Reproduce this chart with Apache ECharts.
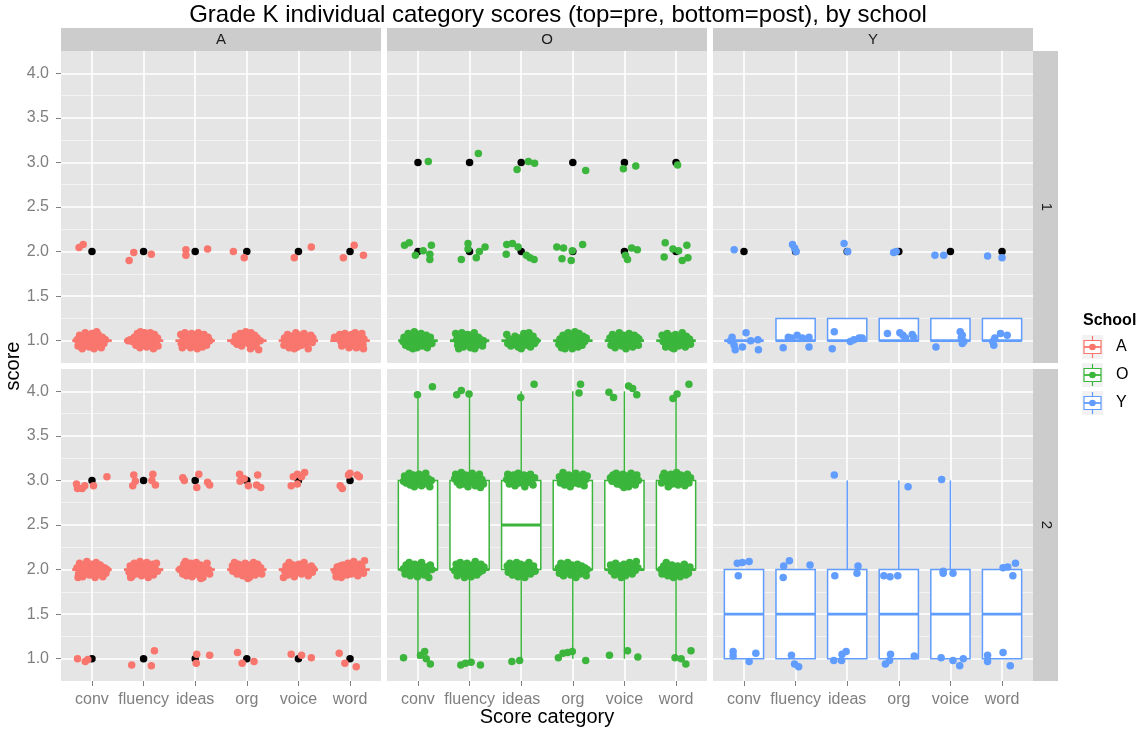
<!DOCTYPE html>
<html>
<head>
<meta charset="utf-8">
<script src="https://cdn.jsdelivr.net/npm/echarts@6/dist/echarts.min.js"></script>
<style>
  html, body { margin: 0; padding: 0; background: #ffffff; }
  #chart { width: 1141px; height: 733px; }
</style>
</head>
<body>
<div id="chart"></div>
<script>
// ---- categories, facets, ticks ----
const categories = ['conv', 'fluency', 'ideas', 'org', 'voice', 'word'];
const schools = ['A', 'O', 'Y'];
const times = ['1', '2'];
const schoolColors = ['#F8766D', '#3BB53C', '#619CFF'];
const xTicks = [1, 2, 3, 4, 5, 6];
const yMajorTicks = [1, 1.5, 2, 2.5, 3, 3.5, 4];
const yMinorTicks = [1.25, 1.75, 2.25, 2.75, 3.25, 3.75];

// ---- boxplot statistics per category: [lower whisker, Q1, median, Q3, upper whisker] ----
const boxA1 = [[1,1,1,1,1],[1,1,1,1,1],[1,1,1,1,1],[1,1,1,1,1],[1,1,1,1,1],[1,1,1,1,1]];
const boxO1 = [[1,1,1,1,1],[1,1,1,1,1],[1,1,1,1,1],[1,1,1,1,1],[1,1,1,1,1],[1,1,1,1,1]];
const boxY1 = [[1,1,1,1,1],[1,1,1,1.25,1.25],[1,1,1,1.25,1.25],[1,1,1,1.25,1.25],[1,1,1,1.25,1.25],[1,1,1,1.25,1.25]];
const boxA2 = [[2,2,2,2,2],[2,2,2,2,2],[2,2,2,2,2],[2,2,2,2,2],[2,2,2,2,2],[2,2,2,2,2]];
const boxO2 = [[1,2,2,3,4],[1,2,2,3,4],[1,2,2.5,3,4],[1,2,2,3,4],[1,2,2,3,4],[1,2,2,3,4]];
const boxY2 = [[1,1,1.5,2,2],[1,1,1.5,2,2],[1,1,1.5,2,3],[1,1,1.5,2,3],[1,1,1.5,2,3],[1,1,1.5,2,2]];

// ---- boxplot outliers per category ----
const outA1 = [[2],[2],[2],[2],[2],[2]];
const outO1 = [[2,3],[2,3],[2,3],[2,3],[2,3],[2,3]];
const outY1 = [[2],[2],[2],[2],[2],[2]];
const outA2 = [[1,3],[1,3],[1,3],[1,3],[1,3],[1,3]];
const outO2 = [[],[],[],[],[],[]];
const outY2 = [[],[],[],[],[],[]];

// ---- jittered individual scores per category: [horizontal jitter, jittered score] ----
const ptsA1 = [
  [[-.25,2.045],[-.17,2.08],
   [-.29,1.01],[-.27,.94],[-.24,1.06],[-.21,.98],[-.19,.91],[-.16,1.03],[-.13,1.09],[-.11,.96],[-.08,1.0],[-.05,.93],[-.03,1.05],[0,1.08],[.02,.97],[.04,.91],[.07,1.02],[.1,.95],[.12,1.07],[.15,.99],[.18,.92],[.2,1.04],[.23,.97],[.26,1.01],[-.14,.94],[.09,1.1]],
  [[-.28,1.9],[-.19,1.99],[.15,1.97],
   [-.3,1.0],[-.26,1.01],[-.22,.99],[-.18,1.04],[-.15,.95],[-.12,1.08],[-.1,1.0],[-.07,.92],[-.04,1.05],[-.01,.97],[.02,1.09],[.04,1.02],[.06,.93],[.09,.99],[.11,1.06],[.14,.95],[.16,1.01],[.19,.91],[.21,1.07],[.24,.98],[.27,1.03],[.28,.94],[-.06,1.1],[.13,1.09]],
  [[-.18,2.02],[-.18,1.96],[.24,2.03],
   [-.28,1.07],[-.27,.97],[-.25,.92],[-.23,1.02],[-.2,1.09],[-.17,.95],[-.15,1.04],[-.12,.99],[-.09,.92],[-.07,1.08],[-.04,1.01],[-.01,.95],[.01,1.05],[.04,.91],[.06,1.09],[.09,.98],[.11,1.03],[.14,.93],[.17,1.07],[.19,1.0],[.22,.95],[.25,1.04],[.28,1.0],[.03,.99]],
  [[-.26,2.0],[-.05,1.93],
   [-.25,.99],[-.22,1.05],[-.19,.96],[-.16,1.01],[-.13,1.08],[-.1,.94],[-.08,1.03],[-.05,.99],[-.02,1.1],[0,1.05],[.03,.97],[.05,1.02],[.08,1.09],[.1,.93],[.13,1.0],[.15,1.06],[.18,.96],[.2,1.03],[.23,.9],[.26,1.0],[-.18,1.02],[.07,.91]],
  [[-.08,1.93],[.25,2.05],
   [-.28,.95],[-.27,1.03],[-.24,.99],[-.21,1.07],[-.18,.92],[-.16,1.0],[-.13,1.05],[-.1,.96],[-.07,1.02],[-.05,1.09],[-.02,.93],[.01,1.0],[.03,1.06],[.06,.95],[.09,1.01],[.11,1.08],[.14,.97],[.16,1.04],[.19,.91],[.21,1.0],[.24,1.06],[.27,.98],[.28,1.03],[-.08,.91]],
  [[-.13,1.93],[.08,2.07],[.26,1.96],
   [-.3,1.04],[-.26,1.03],[-.2,1.07],[-.18,.99],[-.16,.94],[-.13,1.02],[-.1,1.08],[-.08,.96],[-.05,1.05],[-.02,.92],[0,1.0],[.03,1.07],[.05,.95],[.08,1.03],[.1,1.09],[.13,.98],[.15,.93],[.18,1.05],[.2,1.0],[.23,1.08],[.25,.96],[.27,1.02],[.26,.91],[.12,.92]]
];
const ptsO1 = [
  [[.2,3.01],[-.26,2.07],[-.17,2.1],[-.05,1.96],[.1,2.01],[.26,2.07],[.23,1.97],[.23,1.91],
   [-.29,.99],[-.27,1.04],[-.24,.95],[-.22,1.02],[-.19,1.08],[-.17,.93],[-.14,1.0],[-.12,1.06],[-.09,.97],[-.07,1.1],[-.04,1.01],[-.02,.92],[.01,1.05],[.03,.98],[.06,1.08],[.08,.94],[.11,1.02],[.13,.97],[.16,1.06],[.18,.92],[.21,1.0],[.24,1.04],[.27,.97],[-.1,.91]],
  [[.17,3.1],[-.16,1.91],[-.03,2.09],[-.03,2.03],[.13,1.93],[.19,2.0],[.3,2.05],
   [-.27,1.08],[-.25,1.01],[-.23,.95],[-.2,1.05],[-.17,.99],[-.15,1.09],[-.12,.93],[-.09,1.03],[-.07,.97],[-.04,1.07],[-.01,1.0],[.02,.92],[.04,1.06],[.07,.98],[.09,1.09],[.12,1.02],[.14,.95],[.17,1.04],[.19,.97],[.22,1.01],[.25,.94],[.27,1.0],[-.21,.91],[.1,.91]],
  [[-.08,2.92],[.14,3.01],[.26,2.99],[-.28,2.08],[-.29,1.97],[-.17,2.09],[-.06,2.05],[.1,1.96],[.17,1.93],[.25,1.91],
   [-.28,1.07],[-.26,.97],[-.23,1.02],[-.2,.94],[-.17,1.0],[-.14,.96],[-.12,1.05],[-.09,.99],[-.06,.93],[-.04,1.03],[-.01,.97],[.02,1.01],[.05,1.08],[.07,.95],[.1,1.03],[.12,.99],[.15,1.09],[.18,.93],[.2,1.0],[.23,1.05],[.26,.97],[.29,1.0],[0,.91]],
  [[.25,2.91],[-.31,2.05],[-.18,2.04],[-.21,1.92],[-.03,1.9],[-.01,2.01],[.19,2.08],
   [-.27,.96],[-.25,1.02],[-.22,.92],[-.19,1.06],[-.17,.99],[-.14,.94],[-.11,1.03],[-.09,1.09],[-.06,.97],[-.03,1.01],[-.01,.91],[.02,1.06],[.05,.98],[.07,1.03],[.1,.93],[.12,1.08],[.15,1.0],[.18,.95],[.2,1.05],[.23,.99],[.26,1.03],[.04,1.1],[-.15,.91]],
  [[-.02,2.93],[.22,2.96],[.02,1.96],[.06,1.91],[.14,2.04],[.25,2.02],
   [-.28,1.03],[-.26,.95],[-.23,1.07],[-.21,.99],[-.18,.92],[-.15,1.04],[-.13,.97],[-.1,1.09],[-.07,1.01],[-.05,.94],[-.02,1.06],[.01,.98],[.03,.91],[.06,1.03],[.09,1.08],[.11,.96],[.14,1.01],[.16,.93],[.19,1.06],[.22,.99],[.24,1.04],[.27,.95],[.28,1.02]],
  [[.03,2.97],[-.21,2.1],[-.23,1.94],[-.06,2.03],[.05,2.01],[.21,2.07],[.23,1.93],[.12,1.9],
   [-.27,1.06],[-.25,.99],[-.22,1.03],[-.2,.93],[-.17,1.08],[-.14,1.0],[-.12,.95],[-.09,1.05],[-.06,.98],[-.04,.91],[-.01,1.07],[.02,1.01],[.05,.94],[.07,1.04],[.1,.97],[.12,1.09],[.15,1.0],[.18,.93],[.2,1.05],[.23,.98],[.26,1.02],[.28,.96],[-.08,.92]]
];
const ptsY1 = [
  [[-.19,2.02],[-.23,1.04],[.04,1.09],[-.19,.95],[-.17,.9],[-.03,.93],[.13,1.0],[.27,1.01],[.28,.9],[-.26,1.0]],
  [[-.06,2.08],[-.02,2.04],[.01,2.0],[-.24,.92],[-.14,1.04],[.03,1.06],[-.08,1.03],[.26,1.04],[.26,.93],[.13,1.03]],
  [[-.06,2.09],[.01,2.0],[-.25,1.1],[-.29,.91],[.06,.99],[.13,1.01],[.23,1.03],[.29,1.03]],
  [[-.1,1.99],[-.05,2.0],[-.22,1.08],[.02,1.09],[.08,1.06],[.26,1.07],[.29,1.04],[.13,1.03]],
  [[-.3,1.96],[-.13,1.96],[-.28,.93],[.19,1.1],[.23,1.06],[.21,1.03],[.26,.99],[.23,.97]],
  [[-.28,1.95],[0,1.93],[-.16,.95],[-.14,1.03],[-.03,1.08],[.1,1.06],[-.18,.99]]
];
const ptsA2 = [
  [[-.3,2.96],[-.28,2.91],[-.19,2.91],[-.14,2.94],[.03,2.94],[.29,3.04],[-.28,1.0],[-.13,.97],[-.08,.99],
   [-.29,2.02],[-.26,1.95],[-.24,2.07],[-.21,1.99],[-.18,1.92],[-.16,2.04],[-.13,1.97],[-.1,2.09],[-.08,2.01],[-.05,1.94],[-.02,2.06],[.01,1.98],[.03,2.03],[.06,1.91],[.08,2.08],[.11,2.0],[.14,1.95],[.16,2.05],[.19,1.98],[.21,1.92],[.24,2.02],[.27,1.96],[.29,2.0],[-.27,1.91]],
  [[-.19,3.06],[-.16,2.99],[-.21,2.94],[.18,3.07],[.23,2.95],[.16,3.0],[-.23,.93],[.21,1.09],[.15,.92],
   [-.28,1.97],[-.26,2.04],[-.23,1.92],[-.2,2.01],[-.18,2.07],[-.15,1.95],[-.12,2.03],[-.1,1.99],[-.07,2.09],[-.04,1.93],[-.02,2.05],[.01,2.0],[.04,1.96],[.06,2.08],[.09,1.91],[.12,2.02],[.14,1.97],[.17,2.06],[.19,1.94],[.22,2.01],[.25,2.07],[.27,1.98],[-.25,1.91]],
  [[-.24,3.03],[-.21,3.0],[.07,3.07],[.03,2.92],[.24,2.98],[.28,2.95],[.03,1.05],[.02,.95],[.28,1.04],
   [-.3,2.0],[-.27,2.01],[-.24,1.95],[-.22,2.06],[-.19,2.09],[-.17,1.93],[-.14,2.03],[-.11,1.98],[-.09,2.07],[-.06,1.92],[-.03,2.02],[-.01,1.97],[.02,2.08],[.05,2.0],[.07,1.94],[.1,2.05],[.13,1.99],[.15,1.91],[.18,2.04],[.2,1.97],[.23,2.07],[.26,2.0],[.28,1.95],[.11,1.9]],
  [[-.14,3.07],[-.13,2.99],[-.05,3.02],[.21,3.06],[.19,2.95],[.27,2.92],[.03,2.94],[-.18,1.07],[-.09,.95],[.14,.97],
   [-.28,2.04],[-.27,1.98],[-.24,2.08],[-.22,2.01],[-.19,1.95],[-.16,2.06],[-.14,1.99],[-.11,2.03],[-.08,1.93],[-.06,2.0],[-.03,2.07],[0,1.96],[.03,2.02],[.05,1.91],[.08,2.05],[.11,1.98],[.13,2.08],[.16,1.94],[.19,2.01],[.21,2.06],[.24,1.97],[.27,2.02],[.29,1.95],[.02,1.9]],
  [[-.14,2.94],[-.1,3.04],[-.02,3.07],[.06,3.04],[.12,3.09],[-.02,2.96],[-.14,1.05],[.06,1.04],[.25,1.01],
   [-.29,1.91],[-.27,1.99],[-.24,2.04],[-.21,1.94],[-.18,2.08],[-.16,2.0],[-.13,1.96],[-.1,2.05],[-.08,1.92],[-.05,2.01],[-.02,1.97],[.01,2.06],[.03,2.0],[.06,1.95],[.09,2.03],[.11,2.08],[.14,1.98],[.17,2.02],[.19,1.93],[.22,2.0],[.25,2.04],[.27,1.97],[.29,2.01]],
  [[-.19,2.94],[-.15,2.91],[-.03,3.06],[0,3.08],[.14,3.06],[.18,3.04],[-.21,1.06],[-.1,.95],[.12,.91],
   [-.29,1.98],[-.27,1.92],[-.25,2.03],[-.22,1.96],[-.2,2.0],[-.17,1.91],[-.14,2.05],[-.12,1.98],[-.09,2.02],[-.06,1.94],[-.04,2.07],[-.01,2.0],[.02,1.95],[.04,2.04],[.07,2.09],[.1,1.97],[.12,2.01],[.15,1.93],[.18,2.06],[.2,1.99],[.23,2.03],[.26,1.96],[.28,2.1],[-.19,2.04]]
];
const ptsO2 = [
  [[-.01,3.96],[.28,4.05],[-.28,1.01],[.05,1.04],[.13,1.08],[.16,1.0],[.24,.94],
   [-.28,2.99],[-.26,3.05],[-.23,2.97],[-.2,3.02],[-.17,3.08],[-.15,2.95],[-.12,3.01],[-.09,3.06],[-.07,2.93],[-.04,3.03],[-.01,2.98],[.02,3.07],[.04,3.0],[.07,2.94],[.1,3.04],[.12,2.99],[.15,3.08],[.18,2.96],[.2,3.02],[.23,2.93],[.26,3.0],
   [-.28,2.01],[-.25,1.95],[-.23,2.05],[-.2,1.98],[-.17,2.08],[-.15,1.93],[-.12,2.02],[-.09,1.96],[-.06,2.06],[-.04,1.99],[-.01,1.92],[.02,2.04],[.04,1.97],[.07,2.08],[.1,2.0],[.12,1.94],[.15,2.03],[.18,1.98],[.21,1.91],[.24,2.05],[.27,2.0]],
  [[-.25,3.96],[-.16,4.01],[-.01,3.97],[-.17,.93],[-.08,.95],[.03,.96],[.21,.93],
   [-.29,3.02],[-.27,3.07],[-.24,2.98],[-.22,3.04],[-.19,2.95],[-.16,3.09],[-.14,3.01],[-.11,2.96],[-.08,3.06],[-.06,3.0],[-.03,2.93],[0,3.05],[.03,2.98],[.05,3.08],[.08,3.02],[.11,2.94],[.13,3.04],[.16,2.99],[.19,3.07],[.21,2.92],[.24,3.01],[.27,2.96],
   [-.29,1.99],[-.26,2.06],[-.24,1.93],[-.21,2.02],[-.18,2.08],[-.16,1.96],[-.13,2.04],[-.1,1.91],[-.08,2.0],[-.05,2.07],[-.02,1.95],[.01,2.03],[.03,1.92],[.06,2.05],[.09,1.98],[.11,2.09],[.14,1.94],[.17,2.02],[.19,1.97],[.22,2.06],[.25,1.99],[.28,2.03]],
  [[-.01,3.93],[.25,4.08],[-.18,.97],[-.03,.98],
   [-.28,3.01],[-.26,3.07],[-.23,2.96],[-.2,3.03],[-.17,2.99],[-.15,3.06],[-.12,2.94],[-.09,3.02],[-.06,3.08],[-.04,2.97],[-.01,3.04],[.02,2.99],[.05,3.06],[.07,2.93],[.1,3.01],[.13,3.05],[.15,2.98],[.18,3.07],[.2,3.0],[.23,2.95],[.26,3.03],
   [-.27,2.04],[-.25,1.97],[-.22,2.07],[-.19,2.0],[-.17,1.94],[-.14,2.03],[-.11,1.98],[-.09,2.08],[-.06,1.92],[-.03,2.01],[-.01,2.06],[.02,1.96],[.05,2.02],[.07,1.91],[.1,2.05],[.13,1.99],[.15,2.08],[.18,1.95],[.21,2.01],[.24,2.04],[.27,1.98]],
  [[.15,4.08],[.12,3.98],[-.28,1.01],[-.19,1.06],[-.1,1.07],[-.01,1.08],[.25,.98],
   [-.26,3.04],[-.24,2.97],[-.21,3.01],[-.19,3.09],[-.16,2.95],[-.13,3.02],[-.1,2.98],[-.08,3.06],[-.05,2.93],[-.02,3.0],[.01,3.05],[.04,2.97],[.06,3.08],[.09,3.02],[.12,2.96],[.14,3.04],[.17,2.99],[.2,3.07],[.22,2.94],[.25,3.01],[.28,3.05],
   [-.28,2.02],[-.26,1.96],[-.23,2.07],[-.2,1.99],[-.18,1.93],[-.15,2.04],[-.12,1.97],[-.1,2.08],[-.07,2.01],[-.04,1.94],[-.02,2.05],[.01,1.98],[.04,2.03],[.06,1.91],[.09,2.06],[.12,2.0],[.14,1.95],[.17,2.04],[.2,1.98],[.23,2.02],[.26,1.93],[.28,2.0]],
  [[-.3,3.99],[-.21,3.93],[.08,4.06],[.16,4.03],[.24,3.96],[-.29,1.04],[.06,1.09],[.26,1.02],
   [-.27,3.03],[-.24,2.99],[-.22,3.06],[-.19,3.01],[-.16,3.08],[-.14,2.96],[-.11,3.04],[-.08,3.0],[-.06,2.95],[-.03,3.07],[0,3.02],[.02,2.97],[.05,3.05],[.08,2.93],[.1,3.01],[.13,3.08],[.16,2.98],[.18,3.03],[.21,2.95],[.24,3.06],[.27,3.0],[-.01,2.92],
   [-.27,2.05],[-.25,1.98],[-.22,2.02],[-.19,1.94],[-.17,2.07],[-.14,2.0],[-.11,1.96],[-.09,2.04],[-.06,1.91],[-.03,1.99],[-.01,2.06],[.02,1.93],[.05,2.01],[.07,1.97],[.1,2.08],[.13,2.03],[.15,1.95],[.18,2.05],[.21,1.99],[.23,2.09],[.26,2.02]],
  [[-.06,3.92],[.02,3.97],[.25,4.08],[-.02,1.01],[.1,1.0],[.19,.94],[.29,1.09],
   [-.28,2.97],[-.26,3.04],[-.23,3.08],[-.2,2.99],[-.18,3.05],[-.15,2.93],[-.12,3.02],[-.1,3.07],[-.07,2.96],[-.04,3.03],[-.02,2.99],[.01,3.09],[.04,2.95],[.06,3.01],[.09,3.06],[.12,2.98],[.14,3.04],[.17,2.94],[.2,3.0],[.22,3.07],[.25,2.97],[.28,3.03],
   [-.29,2.0],[-.27,1.95],[-.24,2.04],[-.21,1.98],[-.19,2.08],[-.16,1.93],[-.13,2.01],[-.11,1.97],[-.08,2.05],[-.05,1.91],[-.03,2.0],[0,1.96],[.03,2.04],[.05,1.99],[.08,1.92],[.11,2.03],[.13,1.97],[.16,2.06],[.19,1.94],[.21,2.01],[.24,1.96],[.27,2.03]]
];
const ptsY2 = [
  [[-.13,2.07],[-.03,2.08],[.1,2.09],[-.11,1.93],[-.21,1.08],[-.21,1.03],[.1,.97],[.23,1.06]],
  [[-.23,2.04],[-.12,2.1],[.28,2.05],[-.24,1.91],[-.08,1.04],[-.02,.94],[.06,.91]],
  [[-.25,3.06],[.21,2.04],[.19,1.96],[-.24,1.93],[-.26,.98],[-.11,.98],[-.1,1.05],[-.02,1.08]],
  [[.18,2.93],[-.29,1.93],[-.17,1.92],[-.02,1.93],[-.16,1.05],[-.26,.94],[-.18,.98],[.3,1.03]],
  [[-.17,3.01],[-.14,1.98],[-.14,1.96],[.05,1.96],[-.18,1.01],[.05,.98],[.18,.92],[.25,1.0]],
  [[.02,2.02],[.11,2.03],[.26,2.07],[.21,1.93],[-.28,1.04],[-.28,.97],[.02,1.07],[.16,.92]]
];

// ---- facet layout (pixels) ----
const colLeft = [61, 387, 713];
const rowTop = [51, 369];
const panelW = 320;
const panelH = 312;
const FONT = '"Liberation Sans", Arial, Helvetica, sans-serif';

const panels = [
  { s: 0, t: 0, box: boxA1, out: outA1, pts: ptsA1 },
  { s: 1, t: 0, box: boxO1, out: outO1, pts: ptsO1 },
  { s: 2, t: 0, box: boxY1, out: outY1, pts: ptsY1 },
  { s: 0, t: 1, box: boxA2, out: outA2, pts: ptsA2 },
  { s: 1, t: 1, box: boxO2, out: outO2, pts: ptsO2 },
  { s: 2, t: 1, box: boxY2, out: outY2, pts: ptsY2 }
];

const grids = [], xAxes = [], yAxes = [], series = [];

function boxRenderer(color) {
  return function (params, api) {
    const x = api.value(0);
    const half = api.size([0.38, 0])[0];
    const pMin = api.coord([x, api.value(1)]);
    const pQ1 = api.coord([x, api.value(2)]);
    const pMed = api.coord([x, api.value(3)]);
    const pQ3 = api.coord([x, api.value(4)]);
    const pMax = api.coord([x, api.value(5)]);
    const lw = 1.5;
    return {
      type: 'group',
      children: [
        { type: 'line', shape: { x1: pMin[0], y1: pMin[1], x2: pQ1[0], y2: pQ1[1] }, style: { stroke: color, lineWidth: lw } },
        { type: 'line', shape: { x1: pQ3[0], y1: pQ3[1], x2: pMax[0], y2: pMax[1] }, style: { stroke: color, lineWidth: lw } },
        { type: 'rect', shape: { x: pQ3[0] - half, y: pQ3[1], width: 2 * half, height: pQ1[1] - pQ3[1] }, style: { fill: '#ffffff', stroke: color, lineWidth: lw } },
        { type: 'line', shape: { x1: pMed[0] - half, y1: pMed[1], x2: pMed[0] + half, y2: pMed[1] }, style: { stroke: color, lineWidth: 2.8 } }
      ]
    };
  };
}

panels.forEach((p, k) => {
  const isLeft = p.s === 0;
  const isBottom = p.t === 1;
  const color = schoolColors[p.s];
  grids.push({
    left: colLeft[p.s], top: rowTop[p.t], width: panelW, height: panelH,
    show: true, backgroundColor: '#E5E5E5', borderWidth: 0
  });
  xAxes.push({
    gridIndex: k, type: 'value', min: 0.4, max: 6.6,
    axisLine: { show: false }, splitLine: { show: false },
    axisTick: isBottom ? { show: true, customValues: xTicks, length: 5, lineStyle: { color: '#7F7F7F', width: 1 } } : { show: false },
    axisLabel: isBottom ? {
      show: true, customValues: xTicks, margin: 11,
      formatter: v => categories[Math.round(v) - 1],
      color: '#7F7F7F', fontSize: 16, fontFamily: FONT
    } : { show: false }
  });
  yAxes.push({
    gridIndex: k, type: 'value', min: 0.75, max: 4.25,
    axisLine: { show: false }, splitLine: { show: false },
    axisTick: isLeft ? { show: true, customValues: yMajorTicks, length: 5, lineStyle: { color: '#7F7F7F', width: 1 } } : { show: false },
    axisLabel: isLeft ? {
      show: true, customValues: yMajorTicks, margin: 12,
      formatter: v => v.toFixed(1),
      color: '#7F7F7F', fontSize: 16, fontFamily: FONT
    } : { show: false }
  });

  // panel grid lines, kept beneath every mark
  const lineData = [];
  yMinorTicks.forEach(v => lineData.push({ yAxis: v, lineStyle: { color: '#F2F2F2', width: 1, type: 'solid' } }));
  yMajorTicks.forEach(v => lineData.push({ yAxis: v, lineStyle: { color: '#FFFFFF', width: 1.6, type: 'solid' } }));
  xTicks.forEach(v => lineData.push({ xAxis: v, lineStyle: { color: '#FFFFFF', width: 1.6, type: 'solid' } }));
  series.push({
    type: 'scatter', xAxisIndex: k, yAxisIndex: k, data: [], z: 1, silent: true,
    markLine: { silent: true, z: 1, symbol: ['none', 'none'], label: { show: false }, animation: false, data: lineData }
  });

  // boxplots
  series.push({
    type: 'custom', xAxisIndex: k, yAxisIndex: k, z: 3, silent: true,
    renderItem: boxRenderer(color),
    encode: { x: 0, y: [1, 2, 3, 4, 5] },
    data: p.box.map((b, i) => [i + 1].concat(b))
  });

  // boxplot outliers
  const outData = [];
  p.out.forEach((arr, i) => arr.forEach(v => outData.push([i + 1, v])));
  series.push({
    type: 'scatter', xAxisIndex: k, yAxisIndex: k, z: 4, silent: true,
    symbolSize: 7.5, itemStyle: { color: '#000000', opacity: 1 },
    data: outData
  });

  // jittered individual scores
  const ptData = [];
  p.pts.forEach((arr, i) => arr.forEach(d => ptData.push([i + 1 + d[0], d[1]])));
  series.push({
    type: 'scatter', xAxisIndex: k, yAxisIndex: k, z: 5, silent: true,
    symbolSize: 7.5, itemStyle: { color: color, opacity: 1 },
    data: ptData
  });
});

// strips, titles and legend
const graphics = [];
schools.forEach((s, i) => {
  graphics.push({ type: 'rect', shape: { x: colLeft[i], y: 28, width: panelW, height: 23 }, style: { fill: '#CCCCCC' }, z: 1 });
  graphics.push({ type: 'text', x: colLeft[i] + panelW / 2, y: 40, style: { text: s, fill: '#1A1A1A', font: '15px ' + FONT, textAlign: 'center', textVerticalAlign: 'middle' }, z: 2 });
});
times.forEach((t, j) => {
  graphics.push({ type: 'rect', shape: { x: 1033, y: rowTop[j], width: 25, height: panelH }, style: { fill: '#CCCCCC' }, z: 1 });
  graphics.push({ type: 'text', x: 1046, y: rowTop[j] + panelH / 2, rotation: -Math.PI / 2, style: { text: t, fill: '#1A1A1A', font: '15px ' + FONT, textAlign: 'center', textVerticalAlign: 'middle' }, z: 2 });
});
graphics.push({ type: 'text', x: 558, y: 15, style: { text: 'Grade K individual category scores (top=pre, bottom=post), by school', fill: '#000000', font: '24px ' + FONT, textAlign: 'center', textVerticalAlign: 'middle' } });
graphics.push({ type: 'text', x: 547, y: 717, style: { text: 'Score category', fill: '#000000', font: '20px ' + FONT, textAlign: 'center', textVerticalAlign: 'middle' } });
graphics.push({ type: 'text', x: 13, y: 366, rotation: Math.PI / 2, style: { text: 'score', fill: '#000000', font: '20px ' + FONT, textAlign: 'center', textVerticalAlign: 'middle' } });
graphics.push({ type: 'text', x: 1083, y: 321, style: { text: 'School', fill: '#000000', font: 'bold 16px ' + FONT, textAlign: 'left', textVerticalAlign: 'middle' } });
schools.forEach((s, i) => {
  const cy = 347 + 28 * i;
  const c = schoolColors[i];
  graphics.push({ type: 'rect', shape: { x: 1082, y: cy - 12, width: 21, height: 24 }, style: { fill: '#F2F2F2' } });
  graphics.push({ type: 'line', shape: { x1: 1092.5, y1: cy - 11, x2: 1092.5, y2: cy + 11 }, style: { stroke: c, lineWidth: 1.2 } });
  graphics.push({ type: 'rect', shape: { x: 1084, y: cy - 6.5, width: 17, height: 13 }, style: { fill: '#FFFFFF', stroke: c, lineWidth: 1.2 } });
  graphics.push({ type: 'line', shape: { x1: 1084, y1: cy, x2: 1101, y2: cy }, style: { stroke: c, lineWidth: 1.8 } });
  graphics.push({ type: 'circle', shape: { cx: 1092.5, cy: cy, r: 3.3 }, style: { fill: c } });
  graphics.push({ type: 'text', x: 1116, y: cy, style: { text: s, fill: '#000000', font: '16px ' + FONT, textAlign: 'left', textVerticalAlign: 'middle' } });
});

const chart = echarts.init(document.getElementById('chart'), null, { renderer: 'canvas' });
chart.setOption({
  animation: false,
  backgroundColor: '#ffffff',
  grid: grids,
  xAxis: xAxes,
  yAxis: yAxes,
  series: series,
  graphic: graphics
});
</script>
</body>
</html>
